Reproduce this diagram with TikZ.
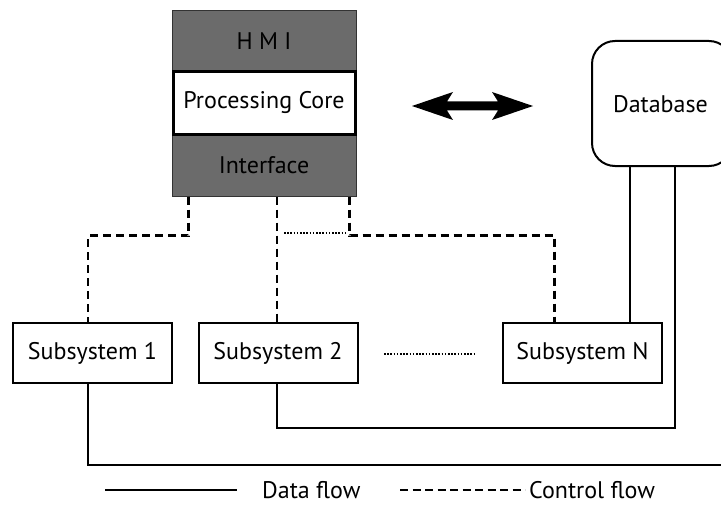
\documentclass[tikz,border=0pt]{standalone}
\usepackage{fontspec}
\setmainfont{PT Sans}
\usetikzlibrary{calc}
\begin{document}
\begin{tikzpicture}[x=1pt,y=-1pt,
  every node/.style={font=\fontsize{24}{28}\selectfont, inner sep=0pt},
  graybox/.style={draw=black!80, line width=1pt, fill=black!58, minimum width=184pt, minimum height=62pt},
  corebox/.style={draw=black, line width=3pt, fill=white, minimum width=184pt, minimum height=62pt},
  subbox/.style={draw=black, line width=2pt, fill=white, minimum width=159pt, minimum height=60pt},
  dbbox/.style={draw=black, line width=2pt, rounded corners=23pt, minimum width=140pt, minimum height=125pt},
  ctrl/.style={line width=2.2pt, dash pattern=on 8pt off 5pt},
  data/.style={line width=2pt},
  dotline/.style={line width=1.5pt, dash pattern=on 1.5pt off 1.7pt}]
\useasboundingbox (0,0) rectangle (721,519);
% stack
\node[graybox] (hmi) at (264,41.5) {H M I};
\node[graybox] (iface) at (264,165) {Interface};
\node[corebox, minimum width=182pt] (core) at (264,103) {Processing Core};
% database
\node[dbbox] (db) at (662,103.5) {};
\node at (660.5,104) {Database};
% subsystems
\node[subbox] (s1) at (92.5,353) {Subsystem 1};
\node[subbox] (s2) at (278,353) {Subsystem 2};
\node[subbox] (sN) at (582.5,353) {Subsystem N};
% double arrow
\fill (412,106) -- (453,92) -- (447,101.5) -- (498,101.5) -- (492,92) -- (533,106)
  -- (492,120) -- (498,110.5) -- (447,110.5) -- (453,120) -- cycle;
% control flow
\draw[ctrl] ([xshift=17pt]iface.south west) -- ++(0,39) -| ([xshift=-4.5pt]s1.north);
\draw[ctrl] ([xshift=-1pt]s2.north |- iface.south) -- ([xshift=-1pt]s2.north);
\draw[ctrl] ([xshift=-7pt]iface.south east) -- ++(0,39) -| ([xshift=-28pt]sN.north);
\coordinate (d1) at (284,233);
\coordinate (d2) at (346,233);
\draw[dotline] (d1) -- (d2);
\coordinate (e1) at (384,354);
\coordinate (e2) at (474,354);
\draw[dotline] (e1) -- (e2);
% data flow
\coordinate (rend) at (730,465);
\draw[data] ([xshift=-4.5pt]s1.south) |- (rend);
\draw[data] ([xshift=-1pt]s2.south) -- ++(0,44) -| ([xshift=13pt]db.south);
\draw[data] ([xshift=-32pt]db.south) -- ([xshift=-32pt]db.south |- sN.north);
% legend
\coordinate (l1) at (105,490);
\coordinate (l2) at (237,490);
\draw[data] (l1) -- (l2);
\node[anchor=west] (ldata) at (262,490) {Data flow};
\coordinate (l3) at (400,490);
\coordinate (l4) at (525,490);
\draw[line width=2pt, dash pattern=on 8pt off 4.5pt] (l3) -- (l4);
\node[anchor=west] (lctrl) at (529,490) {Control flow};
\end{tikzpicture}
\end{document}
